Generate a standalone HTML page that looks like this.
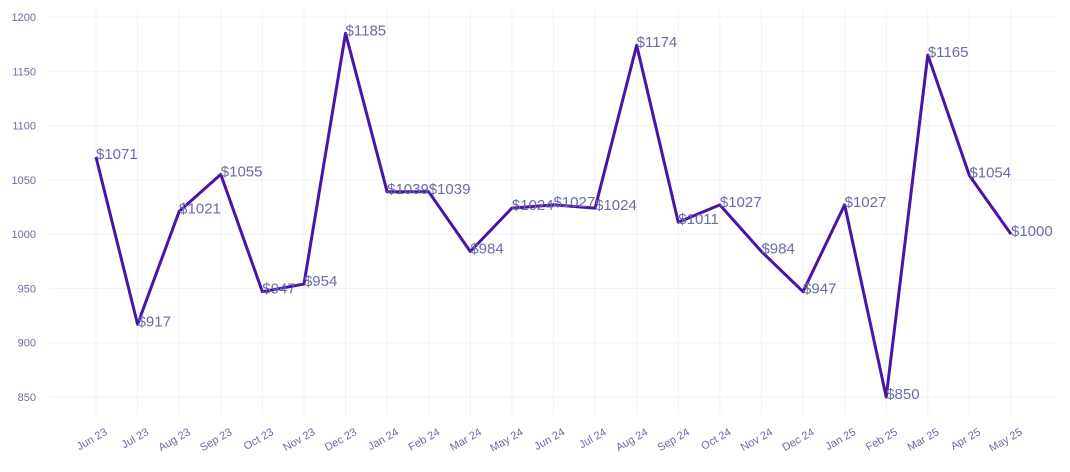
<!DOCTYPE html>
<html><head><meta charset="utf-8"><style>
body{margin:0;background:#fff;font-family:"Liberation Sans",sans-serif;}
</style></head><body>
<svg id="chart" width="1070" height="467" xmlns="http://www.w3.org/2000/svg"></svg>
<script>
const categories=["Jun 23","Jul 23","Aug 23","Sep 23","Oct 23","Nov 23","Dec 23","Jan 24","Feb 24","Mar 24","May 24","Jun 24","Jul 24","Aug 24","Sep 24","Oct 24","Nov 24","Dec 24","Jan 25","Feb 25","Mar 25","Apr 25","May 25"];
const values=[1071,917,1021,1055,947,954,1185,1039,1039,984,1024,1027,1024,1174,1011,1027,984,947,1027,850,1165,1054,1000];
const yTicks=[850,900,950,1000,1050,1100,1150,1200];
const svg=document.getElementById('chart');
const NS="http://www.w3.org/2000/svg";
const x0=96,x1=1011,yA=17,yB=397,vA=1200,vB=850;
function xs(i){return x0+(x1-x0)*i/(categories.length-1);}
function ys(v){return yA+(vA-v)*(yB-yA)/(vA-vB);}
function mk(t,a){const e=document.createElementNS(NS,t);for(const k in a)e.setAttribute(k,a[k]);svg.appendChild(e);return e;}
yTicks.forEach(v=>{
  const l=mk('line',{x1:50,x2:1056,y1:ys(v),y2:ys(v),stroke:'#f0f0fa','stroke-width':1});
  
  
  const t=mk('text',{x:36,y:ys(v)+4,'text-anchor':'end','font-size':11,fill:'#6b6ba8'});
  t.textContent=v;
  
  
});
categories.forEach((c,i)=>{
  const l=mk('line',{x1:xs(i),x2:xs(i),y1:10,y2:415,stroke:'#f0f0fa','stroke-width':1});
  
  
  const t=mk('text',{x:xs(i)+12,y:434,'text-anchor':'end','font-size':11,fill:'#6b6ba8',transform:`rotate(-30 ${xs(i)+12} 434)`});
  t.textContent=c;
  
  
});
const p=mk('polyline',{points:values.map((v,i)=>xs(i)+','+ys(v)).join(' '),fill:'none',stroke:'#4a14a8','stroke-width':3,'stroke-linejoin':'round'});


values.forEach((v,i)=>{
  const t=mk('text',{x:xs(i),y:ys(v)+2,'font-size':15,fill:'#6b6ba8'});
  t.textContent='$'+v;
  
  
});
</script>
</body></html>
